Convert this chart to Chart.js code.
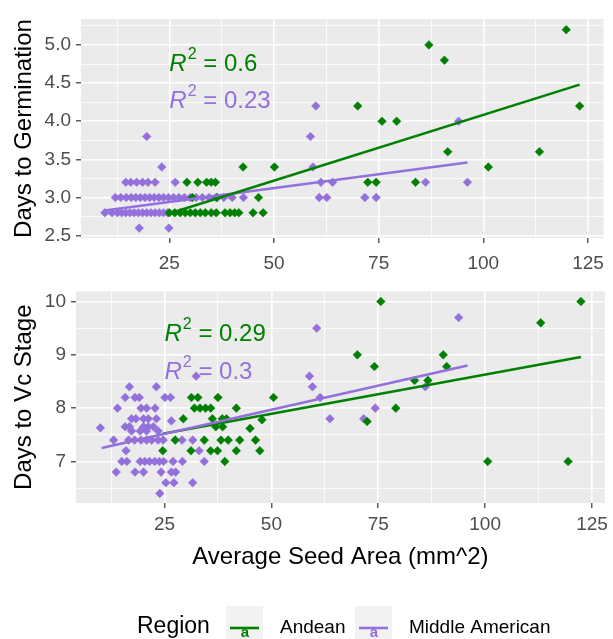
<!DOCTYPE html>
<html>
<head>
<meta charset="utf-8">
<title>Seed area vs. germination and Vc stage</title>
<script src="https://cdn.jsdelivr.net/npm/chart.js@4.4.1/dist/chart.umd.min.js"></script>
<style>
  html, body { margin: 0; padding: 0; background: #fff; }
  #wrap { position: relative; width: 613px; height: 639px; overflow: hidden; }
  canvas { position: absolute; left: 0; }
  #germChart { top: 0; }
  #vcChart { top: 275px; }
</style>
</head>
<body>
<div id="wrap">
  <canvas id="germChart" width="613" height="275"></canvas>
  <canvas id="vcChart" width="613" height="364"></canvas>
</div>
<script>
// ---- data: Days to Germination ----
const germAndeanX = [25.0, 26.3, 27.6, 28.8, 30.0, 31.2, 32.4, 33.6, 35.0, 36.2, 38.3, 39.5, 40.6, 41.6, 45.0, 47.4,
  30.5, 36.4, 46.3,
  29.2, 31.8, 33.9, 35.0, 36.0, 72.4, 74.4, 83.8,
  42.6, 50.1, 101.2,
  91.5, 113.4,
  75.8, 79.3,
  70.0, 123.0,
  90.7, 87.0, 119.8];
const germAndeanY = [2.8, 2.8, 2.8, 2.8, 2.8, 2.8, 2.8, 2.8, 2.8, 2.8, 2.8, 2.8, 2.8, 2.8, 2.8, 2.8,
  3.0, 3.0, 3.0,
  3.2, 3.2, 3.2, 3.2, 3.2, 3.2, 3.2, 3.2,
  3.4, 3.4, 3.4,
  3.6, 3.6,
  4.0, 4.0,
  4.2, 4.2,
  4.8, 5.0, 5.2];

const germMidAmX = [17.8, 24.9,
  9.6, 11.3, 12.6, 13.6, 14.6, 15.6, 16.6, 17.6, 18.6, 19.6, 20.6, 21.6, 22.6, 23.6, 24.6,
  12.1, 13.4, 14.7, 15.9, 17.0, 18.1, 19.2, 20.3, 21.4, 22.5, 23.6, 24.8, 26.0, 27.3, 28.6, 30.0,
  31.4, 32.9, 34.5, 36.2, 38.0, 40.0, 42.7, 60.8, 62.6, 71.7, 74.4,
  14.6, 15.8, 17.2, 18.6, 19.9, 21.6, 26.4, 61.2, 64.0, 86.2, 96.2,
  23.2, 59.3,
  19.6, 58.7,
  94.1,
  60.0];
const germMidAmY = [2.6, 2.6,
  2.8, 2.8, 2.8, 2.8, 2.8, 2.8, 2.8, 2.8, 2.8, 2.8, 2.8, 2.8, 2.8, 2.8, 2.8,
  3.0, 3.0, 3.0, 3.0, 3.0, 3.0, 3.0, 3.0, 3.0, 3.0, 3.0, 3.0, 3.0, 3.0, 3.0, 3.0,
  3.0, 3.0, 3.0, 3.0, 3.0, 3.0, 3.0, 3.0, 3.0, 3.0, 3.0,
  3.2, 3.2, 3.2, 3.2, 3.2, 3.2, 3.2, 3.2, 3.2, 3.2, 3.2,
  3.4, 3.4,
  3.8, 3.8,
  4.0,
  4.2];

// fitted lm lines (ends of each group's x range)
const germAndeanFitX = [25.0, 123.0];
const germAndeanFitY = [2.79, 4.48];
const germMidAmFitX = [9.6, 96.2];
const germMidAmFitY = [2.83, 3.46];
const germR2 = ['0.6', '0.23'];
const germR2X = [25, 25];
const germR2Y = [4.66, 4.17];

// ---- data: Days to Vc Stage ----
const vcAndeanX = [39.1, 100.6, 119.4,
  24.6, 31.2, 35.8, 37.4, 41.8, 47.3,
  27.5, 34.3, 38.2, 39.9, 42.6, 46.3,
  37.0, 38.6, 45.0,
  29.4, 36.2, 38.5, 39.5, 47.8, 72.4,
  32.0, 33.3, 34.6, 35.8, 41.8, 79.1,
  31.3, 32.8, 37.5, 50.5,
  83.5, 86.6,
  74.1, 91.0,
  70.1, 90.2,
  113.0,
  75.6, 122.4];
const vcAndeanY = [7.0, 7.0, 7.0,
  7.2, 7.2, 7.2, 7.2, 7.2, 7.2,
  7.4, 7.4, 7.4, 7.4, 7.4, 7.4,
  7.65, 7.65, 7.62,
  7.8, 7.8, 7.8, 7.8, 7.78, 7.75,
  8.0, 8.0, 8.0, 8.0, 8.0, 8.0,
  8.2, 8.2, 8.2, 8.2,
  8.52, 8.52,
  8.78, 8.78,
  9.0, 9.0,
  9.6,
  10.0, 10.0];

const vcMidAmX = [23.9,
  25.3, 27.2, 31.6,
  13.7, 18.1, 20.1, 24.2, 26.6, 27.6,
  15.0, 16.2, 19.3, 20.4, 21.5, 22.7, 23.8, 24.8, 27.0, 29.2, 34.3,
  16.0, 33.1,
  13.1, 16.6, 18.0, 19.5, 20.8, 22.0, 23.5, 24.7, 29.1, 31.6,
  10.0, 15.8, 16.8, 20.1, 21.2, 22.4, 17.3, 19.3, 20.8, 23.5,
  17.3, 18.3, 20.1, 21.2, 23.1, 26.6, 63.7, 71.6,
  14.0, 19.5, 20.8, 22.8, 74.3,
  15.8, 18.1, 19.1, 25.1, 26.4, 61.4,
  16.8, 23.1, 59.6, 86.0,
  32.4, 58.9,
  60.6,
  93.8];
const vcMidAmY = [6.4,
  6.6, 6.6, 6.6,
  6.8, 6.8, 6.8, 6.8, 6.8, 6.8,
  7.0, 7.0, 7.0, 7.0, 7.0, 7.0, 7.0, 7.0, 7.0, 7.0, 7.0,
  7.2, 7.2,
  7.4, 7.4, 7.4, 7.4, 7.4, 7.4, 7.4, 7.4, 7.4, 7.4,
  7.63, 7.65, 7.65, 7.65, 7.65, 7.65, 7.57, 7.57, 7.57, 7.57,
  7.8, 7.8, 7.8, 7.8, 7.8, 7.76, 7.8, 7.8,
  8.0, 8.0, 8.0, 8.0, 8.0,
  8.2, 8.2, 8.2, 8.2, 8.2, 8.2,
  8.4, 8.4, 8.4, 8.4,
  8.6, 8.6,
  9.5,
  9.7];

const vcAndeanFitX = [24.6, 122.4];
const vcAndeanFitY = [7.52, 8.96];
const vcMidAmFitX = [10.3, 95.9];
const vcMidAmFitY = [7.25, 8.80];
const vcR2 = ['0.29', '0.3'];
const vcR2X = [25, 25];
const vcR2Y = [9.26, 8.55];

// ---- axis ticks (majors get labels, the rest are minor grid lines) ----
const xTicks = [12.5, 25, 37.5, 50, 62.5, 75, 87.5, 100, 112.5, 125];
const xLabels = [25, 50, 75, 100, 125];
const germYTicks = [2.5, 2.75, 3.0, 3.25, 3.5, 3.75, 4.0, 4.25, 4.5, 4.75, 5.0, 5.25];
const germYLabels = [2.5, 3.0, 3.5, 4.0, 4.5, 5.0];
const vcYTicks = [6.5, 7, 7.5, 8, 8.5, 9, 9.5, 10];
const vcYLabels = [7, 8, 9, 10];

const regionNames = ['Andean', 'Middle American'];
const regionColors = ['#008000', '#9370DB'];

const FONT = "'Liberation Sans', Arial, sans-serif";
Chart.defaults.font.family = FONT;

const toPoints = (xs, ys) => xs.map((x, i) => ({ x: x, y: ys[i] }));
const hasVal = (list, v) => list.some(m => Math.abs(m - v) < 1e-6);

function pointSet(label, xs, ys, color, order) {
  return {
    type: 'scatter', label, data: toPoints(xs, ys), order,
    backgroundColor: color, borderColor: color,
    pointStyle: 'rectRot', pointRadius: 4.3, pointBorderWidth: 0.6, pointHoverRadius: 4.3
  };
}
function fitSet(label, xs, ys, color, order) {
  return {
    type: 'line', label, data: toPoints(xs, ys), order,
    borderColor: color, borderWidth: 2.6, pointRadius: 0, fill: false, tension: 0
  };
}

function axis(ticks, labels, min, max, fmt, extra, pad) {
  return Object.assign({
    type: 'linear', min, max,
    afterBuildTicks: s => { s.ticks = ticks.filter(v => v >= min && v <= max).map(v => ({ value: v })); },
    ticks: {
      autoSkip: false, maxRotation: 0, minRotation: 0,
      color: '#4D4D4D', font: { size: 19 }, padding: pad,
      callback: v => hasVal(labels, v) ? fmt(v) : ''
    },
    grid: {
      color: '#FFFFFF',
      lineWidth: c => hasVal(labels, c.tick.value) ? 1.6 : 0.8,
      tickColor: c => hasVal(labels, c.tick.value) ? '#333333' : 'rgba(0,0,0,0)',
      tickWidth: 1.2,
      tickLength: 5
    },
    border: { display: false }
  }, extra);
}

// grey panel behind the grid
const panelBg = {
  id: 'panelBg',
  beforeDraw(chart) {
    const { ctx, chartArea: a } = chart;
    ctx.save();
    ctx.fillStyle = '#EBEBEB';
    ctx.fillRect(a.left, a.top, a.right - a.left, a.bottom - a.top);
    ctx.restore();
  }
};

// "R² = value" labels placed in data coordinates
const r2Labels = {
  id: 'r2Labels',
  afterDatasetsDraw(chart, args, opts) {
    const { ctx, scales } = chart;
    opts.values.forEach((val, i) => {
      let px = scales.x.getPixelForValue(opts.xs[i]);
      const py = scales.y.getPixelForValue(opts.ys[i]);
      ctx.save();
      ctx.fillStyle = regionColors[i];
      ctx.textAlign = 'left';
      ctx.textBaseline = 'alphabetic';
      ctx.font = 'italic 24px ' + FONT;
      ctx.fillText('R', px, py);
      px += ctx.measureText('R').width + 1;
      ctx.font = '16px ' + FONT;
      ctx.fillText('2', px, py - 12);
      px += ctx.measureText('2').width;
      ctx.font = '24px ' + FONT;
      ctx.fillText(' = ' + val, px, py);
      ctx.restore();
    });
  }
};

// bottom legend: Region [key] Andean [key] Middle American
const regionLegend = {
  id: 'regionLegend',
  afterDraw(chart) {
    const ctx = chart.ctx;
    const base = 358;
    ctx.save();
    ctx.textBaseline = 'alphabetic';
    ctx.textAlign = 'left';
    ctx.fillStyle = '#000';
    ctx.font = '23px ' + FONT;
    ctx.fillText('Region', 137, base);
    const keyX = [226, 355];
    const textX = [280, 409];
    regionNames.forEach((name, i) => {
      ctx.fillStyle = '#F2F2F2';
      ctx.fillRect(keyX[i], 331, 37, 37);
      ctx.strokeStyle = regionColors[i];
      ctx.lineWidth = 2.6;
      ctx.beginPath();
      ctx.moveTo(keyX[i] + 4, 353);
      ctx.lineTo(keyX[i] + 33, 353);
      ctx.stroke();
      ctx.fillStyle = regionColors[i];
      ctx.font = 'bold 15px ' + FONT;
      ctx.textAlign = 'center';
      ctx.fillText('a', keyX[i] + 19, 362);
      ctx.textAlign = 'left';
      ctx.fillStyle = '#000';
      ctx.font = '19px ' + FONT;
      ctx.fillText(name, textX[i], base);
    });
    ctx.restore();
  }
};

const fmt1 = v => v.toFixed(1);
const fmt0 = v => String(v);

new Chart(document.getElementById('germChart'), {
  data: {
    datasets: [
      fitSet('Andean fit', germAndeanFitX, germAndeanFitY, regionColors[0], 1),
      fitSet('Middle American fit', germMidAmFitX, germMidAmFitY, regionColors[1], 2),
      pointSet('Andean', germAndeanX, germAndeanY, regionColors[0], 3),
      pointSet('Middle American', germMidAmX, germMidAmY, regionColors[1], 4)
    ]
  },
  options: {
    responsive: false, animation: false,
    layout: { padding: { top: 19, right: 4, left: 0, bottom: 0 } },
    plugins: {
      legend: { display: false }, tooltip: { enabled: false },
      r2Labels: { values: germR2, xs: germR2X, ys: germR2Y }
    },
    scales: {
      x: axis(xTicks, xLabels, 3.9, 128.7, fmt0, { afterFit: s => { s.height = 37; } }, 9),
      y: axis(germYTicks, germYLabels, 2.47, 5.34, fmt1, {
        afterFit: s => { s.width = 81; },
        title: { display: true, text: 'Days to Germination', color: '#000', font: { size: 24 }, padding: { top: 10, bottom: 0 } }
      }, 5)
    }
  },
  plugins: [panelBg, r2Labels]
});

new Chart(document.getElementById('vcChart'), {
  data: {
    datasets: [
      fitSet('Andean fit', vcAndeanFitX, vcAndeanFitY, regionColors[0], 2),
      fitSet('Middle American fit', vcMidAmFitX, vcMidAmFitY, regionColors[1], 1),
      pointSet('Andean', vcAndeanX, vcAndeanY, regionColors[0], 3),
      pointSet('Middle American', vcMidAmX, vcMidAmY, regionColors[1], 4)
    ]
  },
  options: {
    responsive: false, animation: false,
    layout: { padding: { top: 10, right: 4, left: 0, bottom: 66 } },
    plugins: {
      legend: { display: false }, tooltip: { enabled: false },
      r2Labels: { values: vcR2, xs: vcR2X, ys: vcR2Y }
    },
    scales: {
      x: axis(xTicks, xLabels, 4.3, 128.0, fmt0, {
        afterFit: s => { s.height = 70; },
        title: { display: true, text: 'Average Seed Area (mm^2)', color: '#000', font: { size: 24 }, padding: { top: 0, bottom: 1 } }
      }, 5),
      y: axis(vcYTicks, vcYLabels, 6.22, 10.19, fmt0, {
        afterFit: s => { s.width = 76; },
        title: { display: true, text: 'Days to Vc Stage', color: '#000', font: { size: 24 }, padding: { top: 10, bottom: 0 } }
      }, 5)
    }
  },
  plugins: [panelBg, r2Labels, regionLegend]
});
</script>
</body>
</html>
